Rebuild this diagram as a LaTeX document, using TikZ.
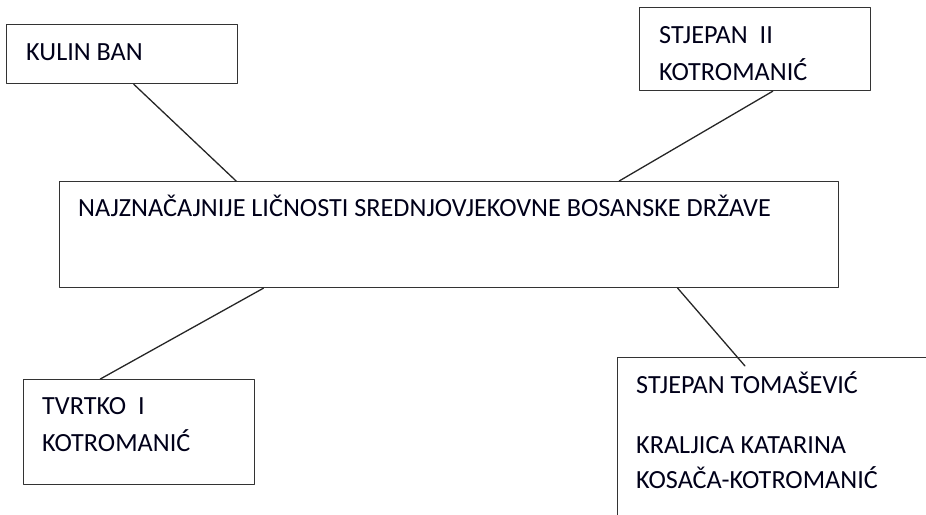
\documentclass[tikz,border=0pt]{standalone}
\usepackage{fontspec}
\setmainfont{Carlito}
\usetikzlibrary{calc}

\begin{document}
\begin{tikzpicture}[x=1pt,y=-1pt,line cap=round,line join=round]
\tikzset{box/.style={draw=black!80,line width=1.2pt,anchor=north west,inner sep=0pt},
  txt/.style={anchor=base west,inner sep=0pt,text=black!90!blue,font=\fontsize{26.2}{30}\selectfont},
  link/.style={draw=black!85,line width=1.3pt}}
\useasboundingbox (0,0) rectangle (926,514);
\clip (0,0) rectangle (926,514);
% boxes
\node[box,minimum width=231,minimum height=59] (kulin) at (6,24) {};
\node[box,minimum width=231,minimum height=83] (stjepan) at (639,7) {};
\node[box,minimum width=779,minimum height=106] (main) at (59,181) {};
\node[box,minimum width=231,minimum height=105] (tvrtko) at (23,379) {};
\node[box,minimum width=330,minimum height=180] (toma) at (617,357) {};
% texts
\node[txt] (tkulin) at (26,60) {KULIN BAN};
\node[txt] (tstj1) at (659,43) {STJEPAN\ \ II};
\node[txt] (tstj2) at (659,80) {KOTROMANIĆ};
\node[txt] (tmain) at (78,216) {NAJZNAČAJNIJE LIČNOSTI SREDNJOVJEKOVNE BOSANSKE DRŽAVE};
\node[txt] (ttv1) at (42,414) {TVRTKO\ \ I};
\node[txt] (ttv2) at (42,451) {KOTROMANIĆ};
\node[txt] (ttom1) at (636,393) {STJEPAN TOMAŠEVIĆ};
\node[txt] (ttom2) at (636,453) {KRALJICA KATARINA};
\node[txt] (ttom3) at (636,488) {KOSAČA-KOTROMANIĆ};
% connectors
\coordinate (tend) at (745,366);
\draw[link] ($(kulin.south west)!0.55!(kulin.south east)$) -- ($(main.north west)!0.227!(main.north east)$);
\draw[link] ($(stjepan.south west)!0.576!(stjepan.south east)$) -- ($(main.north west)!0.718!(main.north east)$);
\draw[link] ($(main.south west)!0.262!(main.south east)$) -- ($(tvrtko.north west)!0.333!(tvrtko.north east)$);
\draw[link] ($(main.south west)!0.793!(main.south east)$) -- (tend);
\end{tikzpicture}
\end{document}
